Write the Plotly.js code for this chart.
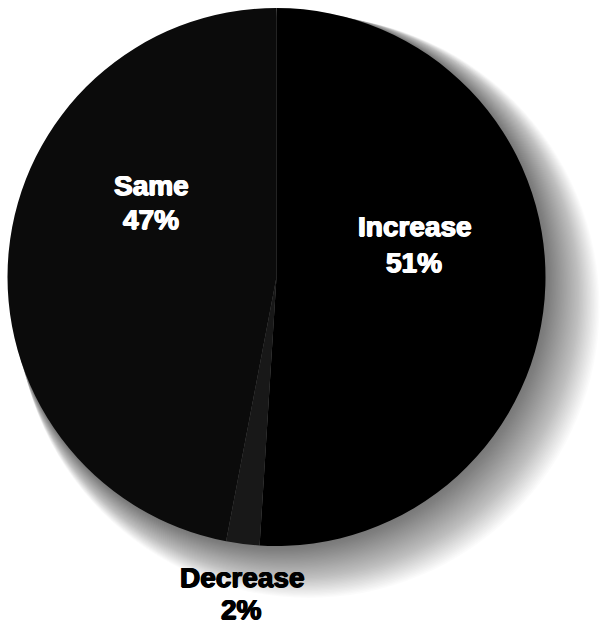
<!DOCTYPE html>
<html>
<head>
<meta charset="utf-8">
<script src="https://cdn.plot.ly/plotly-3.0.1.min.js"></script>
<style>
  html, body { margin: 0; padding: 0; background: #ffffff; }
  #chart { width: 605px; height: 625px; }
</style>
</head>
<body>
<div id="chart"></div>
<script>
// Survey answers, in clockwise order starting at 12 o'clock
const labels = ['Increase', 'Decrease', 'Same'];
const percents = [51, 2, 47];
const sliceColors = ['#000000', '#181818', '#0b0b0b'];
const labelColors = ['#ffffff', '#000000', '#ffffff'];

const W = 605, H = 625;
// pie geometry in pixels
const cx = 276.5, cy = 277, r = 269;

const px = x => x / W;
const py = y => 1 - y / H;

// soft drop shadow to the lower right, built from many faint stacked discs
const shadowShapes = [];
const steps = 40;
for (let i = 0; i < steps; i++) {
  const t = (i + 1) / steps;
  const scx = cx + 32 * t, scy = cy + 30 * t, sr = r + 22 * t;
  shadowShapes.push({
    type: 'circle', xref: 'paper', yref: 'paper', layer: 'below',
    x0: px(scx - sr), x1: px(scx + sr),
    y0: py(scy + sr), y1: py(scy - sr),
    fillcolor: 'rgba(0,0,0,0.016)', line: { width: 0 }
  });
}

// each slice gets a name line and a percent line (pixel centres)
const namePos = [[415, 227], [242, 577], [151, 185]];
const pctPos = [[414, 262], [241, 609], [151, 219]];

function labelFont(i) {
  const c = labelColors[i];
  return {
    family: 'Liberation Sans, Arial, sans-serif', size: 28, weight: 900, color: c,
    shadow: '0.7px 0 0 ' + c + ', -0.7px 0 0 ' + c + ', 0 0.5px 0 ' + c
  };
}

const annotations = [];
labels.forEach((lab, i) => {
  annotations.push({
    xref: 'paper', yref: 'paper',
    x: px(namePos[i][0]), y: py(namePos[i][1]),
    xanchor: 'center', yanchor: 'middle',
    text: lab, showarrow: false, font: labelFont(i)
  });
  annotations.push({
    xref: 'paper', yref: 'paper',
    x: px(pctPos[i][0]), y: py(pctPos[i][1]),
    xanchor: 'center', yanchor: 'middle',
    text: percents[i] + '%', showarrow: false, font: labelFont(i)
  });
});

const trace = {
  type: 'pie',
  labels: labels,
  values: percents,
  sort: false,
  direction: 'clockwise',
  rotation: 0,
  textposition: 'none',
  hoverinfo: 'label+percent',
  marker: { colors: sliceColors, line: { width: 0 } },
  domain: { x: [px(cx - r), px(cx + r)], y: [py(cy + r), py(cy - r)] },
  showlegend: false
};

const layout = {
  width: W, height: H,
  margin: { l: 0, r: 0, t: 0, b: 0 },
  paper_bgcolor: '#ffffff',
  plot_bgcolor: '#ffffff',
  showlegend: false,
  shapes: shadowShapes,
  annotations: annotations
};

Plotly.newPlot('chart', [trace], layout, { displayModeBar: false, staticPlot: true });
</script>
</body>
</html>
